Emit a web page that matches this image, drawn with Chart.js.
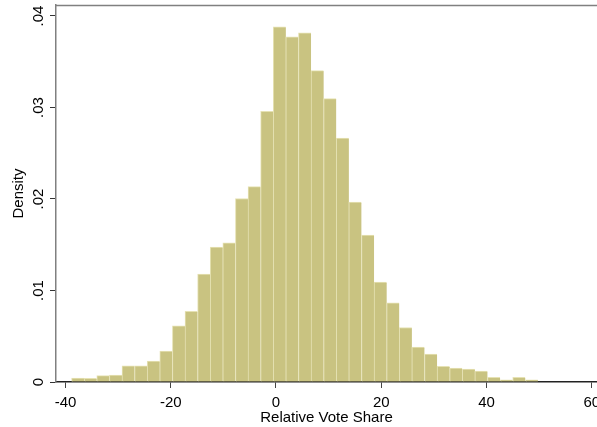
<!DOCTYPE html>
<html>
<head>
<meta charset="utf-8">
<script src="https://cdn.jsdelivr.net/npm/chart.js@4.4.1/dist/chart.umd.min.js"></script>
<style>
  html, body { margin: 0; padding: 0; background: #fff; overflow: hidden; }
  #wrap { width: 597px; height: 427px; }
</style>
</head>
<body>
<div id="wrap"><canvas id="hist"></canvas></div>
<script>
// histogram bins (relative vote share)
const binStart = -38.84;
const binWidth = 2.395;
const density = [
  0.00044, 0.00040, 0.00069, 0.00076, 0.00178, 0.00178, 0.00229, 0.00338,
  0.00615, 0.00771, 0.01179, 0.01474, 0.01521, 0.02005, 0.02135, 0.02958,
  0.03882, 0.03773, 0.03817, 0.03402, 0.03096, 0.02667, 0.01965, 0.01605,
  0.01092, 0.00866, 0.00596, 0.00382, 0.00306, 0.00170, 0.00153, 0.00142,
  0.00120, 0.00050, 0.00025, 0.00050, 0.00025
];
const xTicks = [-40, -20, 0, 20, 40, 60];
const yTicks = [0, 0.01, 0.02, 0.03, 0.04];
const yTickLabels = ["0", ".01", ".02", ".03", ".04"];

const points = density.map((d, i) => ({ x: binStart + (i + 0.5) * binWidth, y: d }));

Chart.defaults.font.family = "'Liberation Sans', Arial, sans-serif";
Chart.defaults.font.size = 15;
Chart.defaults.color = "#000";

// gray frame line along the top of the plot region
const topFrame = {
  id: "topFrame",
  beforeDatasetsDraw(chart) {
    const { ctx, chartArea } = chart;
    ctx.save();
    ctx.strokeStyle = "#808080";
    ctx.lineWidth = 1.5;
    ctx.beginPath();
    ctx.moveTo(chartArea.left, chartArea.top + 0.5);
    ctx.lineTo(chartArea.right, chartArea.top + 0.5);
    ctx.stroke();
    ctx.restore();
  }
};

new Chart(document.getElementById("hist"), {
  type: "bar",
  data: {
    datasets: [{
      data: points,
      backgroundColor: "#c9c381",
      borderColor: "#e6e2b4",
      borderWidth: { top: 1, left: 1, right: 0, bottom: 0 },
      borderSkipped: false,
      barPercentage: 1,
      categoryPercentage: 1
    }]
  },
  options: {
    responsive: true,
    maintainAspectRatio: false,
    animation: false,
    layout: { padding: { top: 5, left: 0, right: 0, bottom: 0 }, autoPadding: false },
    plugins: { legend: { display: false }, tooltip: { enabled: false } },
    scales: {
      x: {
        type: "linear",
        min: -41.8,
        max: 61.0,
        offset: false,
        grid: { display: true, drawOnChartArea: false, offset: false, tickLength: 6, tickColor: "#444" },
        border: { display: true, color: "#222", width: 1.5 },
        ticks: { padding: 6, maxRotation: 0, includeBounds: false },
        afterBuildTicks: (s) => { s.ticks = xTicks.map(v => ({ value: v })); },
        title: { display: true, text: "Relative Vote Share", padding: { top: 0, bottom: 0 } },
        afterFit: (s) => { s.height = 45; s.paddingLeft = 0; s.paddingRight = 0; }
      },
      y: {
        min: 0,
        max: 0.0412,
        grid: { display: true, drawOnChartArea: false, tickLength: 6, tickColor: "#333" },
        border: { display: true, color: "#808080", width: 1.5 },
        ticks: {
          minRotation: 90,
          maxRotation: 90,
          crossAlign: "center",
          padding: 1,
          callback: (v) => {
            const i = yTicks.findIndex(t => Math.abs(t - v) < 1e-9);
            return i >= 0 ? yTickLabels[i] : "";
          }
        },
        afterBuildTicks: (s) => { s.ticks = yTicks.map(v => ({ value: v })); },
        title: { display: true, text: "Density", padding: { top: 10, bottom: 0 } },
        afterFit: (s) => { s.width = 56; s.paddingTop = 0; s.paddingBottom = 0; }
      }
    }
  },
  plugins: [topFrame]
});
</script>
</body>
</html>
